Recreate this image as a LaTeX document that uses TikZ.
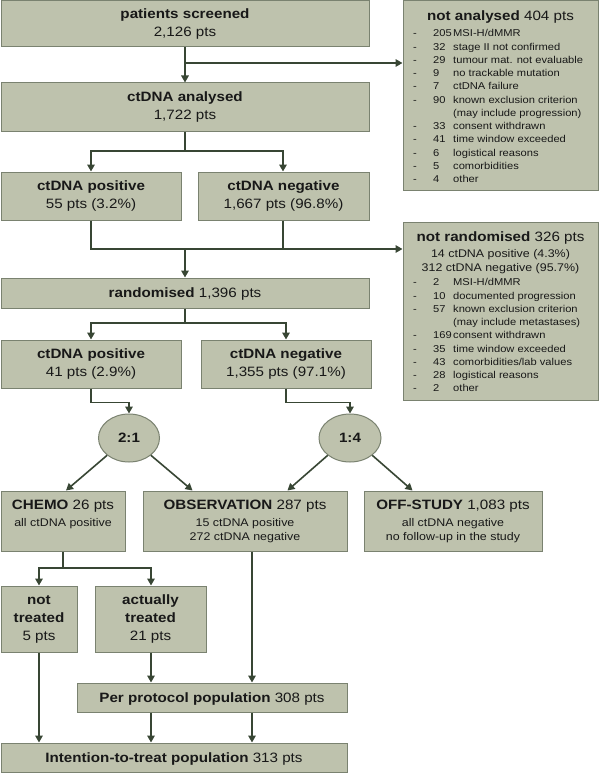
\documentclass[tikz,border=0pt]{standalone}
\usepackage{fontspec}
\setmainfont{Liberation Sans}[FakeStretch=1.12]
\usetikzlibrary{arrows.meta,shapes.geometric}
\definecolor{boxfill}{RGB}{190,194,173}
\definecolor{boxline}{RGB}{122,130,112}
\definecolor{arrcol}{RGB}{56,70,52}
\definecolor{txt}{RGB}{24,24,24}
\newcommand{\mainf}{\fontsize{13.55}{18}\selectfont}
\newcommand{\subf}{\fontsize{11.1}{14}\selectfont}
\newcommand{\listf}{\fontsize{9.95}{13.25}\selectfont}
\begin{document}
\begin{tikzpicture}[x=1pt,y=-1pt,
  box/.style={draw=boxline, fill=boxfill, line width=1pt, inner sep=0pt, align=center, font=\mainf, text=txt},
  low/.style={execute at begin node={\rule{0pt}{#1}}},
  oval/.style={ellipse, draw=boxline, fill=boxfill, line width=1pt, inner sep=0pt, font=\mainf\bfseries, text=txt},
  conn/.style={draw=arrcol, line width=1.6pt},
  arr/.style={conn, -{Triangle[length=7pt,width=7.5pt]}},
  txtline/.style={inner sep=0pt, text=txt, anchor=base west, font=\listf},
  txtcenter/.style={inner sep=0pt, text=txt, anchor=base},
]
\useasboundingbox (0,0) rectangle (600,773);
\fill[white] (0,0) rectangle (600,773);

% main column
\node[box, low=14pt, minimum width=368pt, minimum height=46pt] (screened) at (185,24) {\textbf{patients screened}\\2,126 pts};
\node[box, low=14pt, minimum width=368pt, minimum height=48pt] (analysed) at (185,107) {\textbf{ctDNA analysed}\\1,722 pts};
\node[box, low=14pt, minimum width=180pt, minimum height=48pt] (pos1) at (91,196) {\textbf{ctDNA positive}\\55 pts (3.2\%)};
\node[box, low=14pt, minimum width=171pt, minimum height=48pt] (neg1) at (283.5,196) {\textbf{ctDNA negative}\\1,667 pts (96.8\%)};
\node[box, low=12.5pt, minimum width=368pt, minimum height=30pt] (rand) at (185,293) {\textbf{randomised} 1,396 pts};
\node[box, low=14pt, minimum width=180pt, minimum height=48pt] (pos2) at (91,364) {\textbf{ctDNA positive}\\41 pts (2.9\%)};
\node[box, low=14pt, minimum width=170pt, minimum height=48pt] (neg2) at (286,364) {\textbf{ctDNA negative}\\1,355 pts (97.1\%)};
\node[oval, minimum width=61pt, minimum height=48pt] (e21) at (129,438) {2:1};
\node[oval, minimum width=62pt, minimum height=48pt] (e14) at (350,438) {1:4};
\node[box, low=14pt, minimum width=124pt, minimum height=60pt] (chemo) at (63,521) {\textbf{CHEMO} 26 pts\\[-1pt]{\subf all ctDNA positive}\\[-4pt]\phantom{\subf 272 ctDNA negative}};
\node[box, low=14pt, minimum width=204pt, minimum height=60pt] (obs) at (245,521) {\textbf{OBSERVATION} 287 pts\\[-1pt]{\subf 15 ctDNA positive}\\[-4pt]{\subf 272 ctDNA negative}};
\node[box, low=14pt, minimum width=178pt, minimum height=60pt] (off) at (453,521) {\textbf{OFF-STUDY} 1,083 pts\\[-1pt]{\subf all ctDNA negative}\\[-4pt]{\subf no follow-up in the study}};
\node[box, low=15pt, minimum width=76pt, minimum height=66pt] (nottr) at (39,619) {\textbf{not}\\\textbf{treated}\\5 pts};
\node[box, low=15pt, minimum width=111pt, minimum height=66pt] (acttr) at (150.5,619) {\textbf{actually}\\\textbf{treated}\\21 pts};
\node[box, low=12.5pt, minimum width=270pt, minimum height=29pt] (pp) at (212,697.5) {\textbf{Per protocol population} 308 pts};
\node[box, low=12.5pt, minimum width=346pt, minimum height=29pt] (itt) at (174,757.5) {\textbf{Intention-to-treat population} 313 pts};

% side box: not analysed
\node[box, minimum width=195pt, minimum height=189pt] (notanalysed) at (500.5,95.5) {};
\node[txtcenter, font=\mainf] (na-title) at (500.5,20.6) {\textbf{not analysed} 404 pts};
\foreach \k/\n/\t in {0/205/{MSI-H/dMMR}, 1/32/{stage II not confirmed}, 2/29/{tumour mat. not evaluable},
  3/9/{no trackable mutation}, 4/7/{ctDNA failure}, 5/90/{known exclusion criterion},
  7/33/{consent withdrawn}, 8/41/{time window exceeded}, 9/6/{logistical reasons},
  10/5/{comorbidities}, 11/4/{other}}{
  \pgfmathsetmacro\yy{33.3+13.24*\k+3.6}
  \node[txtline] (na-d\k) at (413,\yy) {-};
  \node[txtline] (na-n\k) at (433,\yy) {\n};
  \node[txtline] (na-t\k) at (453,\yy) {\t};
}
\node[txtline] (na-t6) at (453,{33.3+13.24*6+3.6}) {(may include progression)};

% side box: not randomised
\node[box, minimum width=195pt, minimum height=178pt] (notrand) at (500.5,311) {};
\node[txtcenter, font=\mainf] (nr-title) at (500.5,241.6) {\textbf{not randomised} 326 pts};
\node[txtcenter, font=\subf] (nr-s1) at (500.5,257.3) {14 ctDNA positive (4.3\%)};
\node[txtcenter, font=\subf] (nr-s2) at (500.5,271.7) {312 ctDNA negative (95.7\%)};
\foreach \k/\n/\t in {0/2/{MSI-H/dMMR}, 1/10/{documented progression}, 2/57/{known exclusion criterion},
  4/169/{consent withdrawn}, 5/35/{time window exceeded}, 6/43/{comorbidities/lab values},
  7/28/{logistical reasons}, 8/2/{other}}{
  \pgfmathsetmacro\yy{282.3+13.25*\k+3.6}
  \node[txtline] (nr-d\k) at (413,\yy) {-};
  \node[txtline] (nr-n\k) at (433,\yy) {\n};
  \node[txtline] (nr-t\k) at (453,\yy) {\t};
}
\node[txtline] (nr-t3) at (453,{282.3+13.25*3+3.6}) {(may include metastases)};

% connectors
\coordinate (j1) at (185,63);
\draw[arr] (screened.south) -- (analysed.north);
\draw[arr] (j1) -- (j1 -| notanalysed.west);

\coordinate (j2) at (185,151);
\draw[conn] (analysed.south) -- (j2);
\draw[arr] (j2) -| (pos1.north);
\draw[arr] (j2) -| ([xshift=-0.5pt]neg1.north);

\coordinate (j3) at (185,249);
\draw[conn] (pos1.south) |- (j3);
\draw[conn] ([xshift=-0.5pt]neg1.south) |- (j3);
\draw[arr] (j3) -- (rand.north);
\draw[arr] (j3) -- (j3 -| notrand.west);

\coordinate (j4) at (185,323);
\draw[conn] (rand.south) -- (j4);
\draw[arr] (j4) -| (pos2.north);
\draw[arr] (j4) -| (neg2.north);

\draw[arr] (pos2.south) -- ++(0,14) -| (e21.north);
\draw[arr] (neg2.south) -- ++(0,14) -| (e14.north);

\draw[arr] (e21.south west) -- ([xshift=3pt]chemo.north);
\draw[arr] (e21.south east) -- ([xshift=50pt]obs.north west);
\draw[arr] (e14.south west) -- ([xshift=145pt]obs.north west);
\draw[arr] (e14.south east) -- ([xshift=49pt]off.north west);

\coordinate (j5) at (63,568);
\draw[conn] (chemo.south) -- (j5);
\draw[arr] (j5) -| (nottr.north);
\draw[arr] (j5) -| ([xshift=0.5pt]acttr.north);

\coordinate (o1) at ([xshift=7pt]obs.south);
\coordinate (a1) at ([xshift=0.5pt]acttr.south);
\draw[arr] (a1) -- (a1 |- pp.north);
\draw[arr] (o1) -- (o1 |- pp.north);
\draw[arr] (a1 |- pp.south) -- (a1 |- itt.north);
\draw[arr] (o1 |- pp.south) -- (o1 |- itt.north);
\draw[arr] (nottr.south) -- (nottr.south |- itt.north);
\end{tikzpicture}
\end{document}
